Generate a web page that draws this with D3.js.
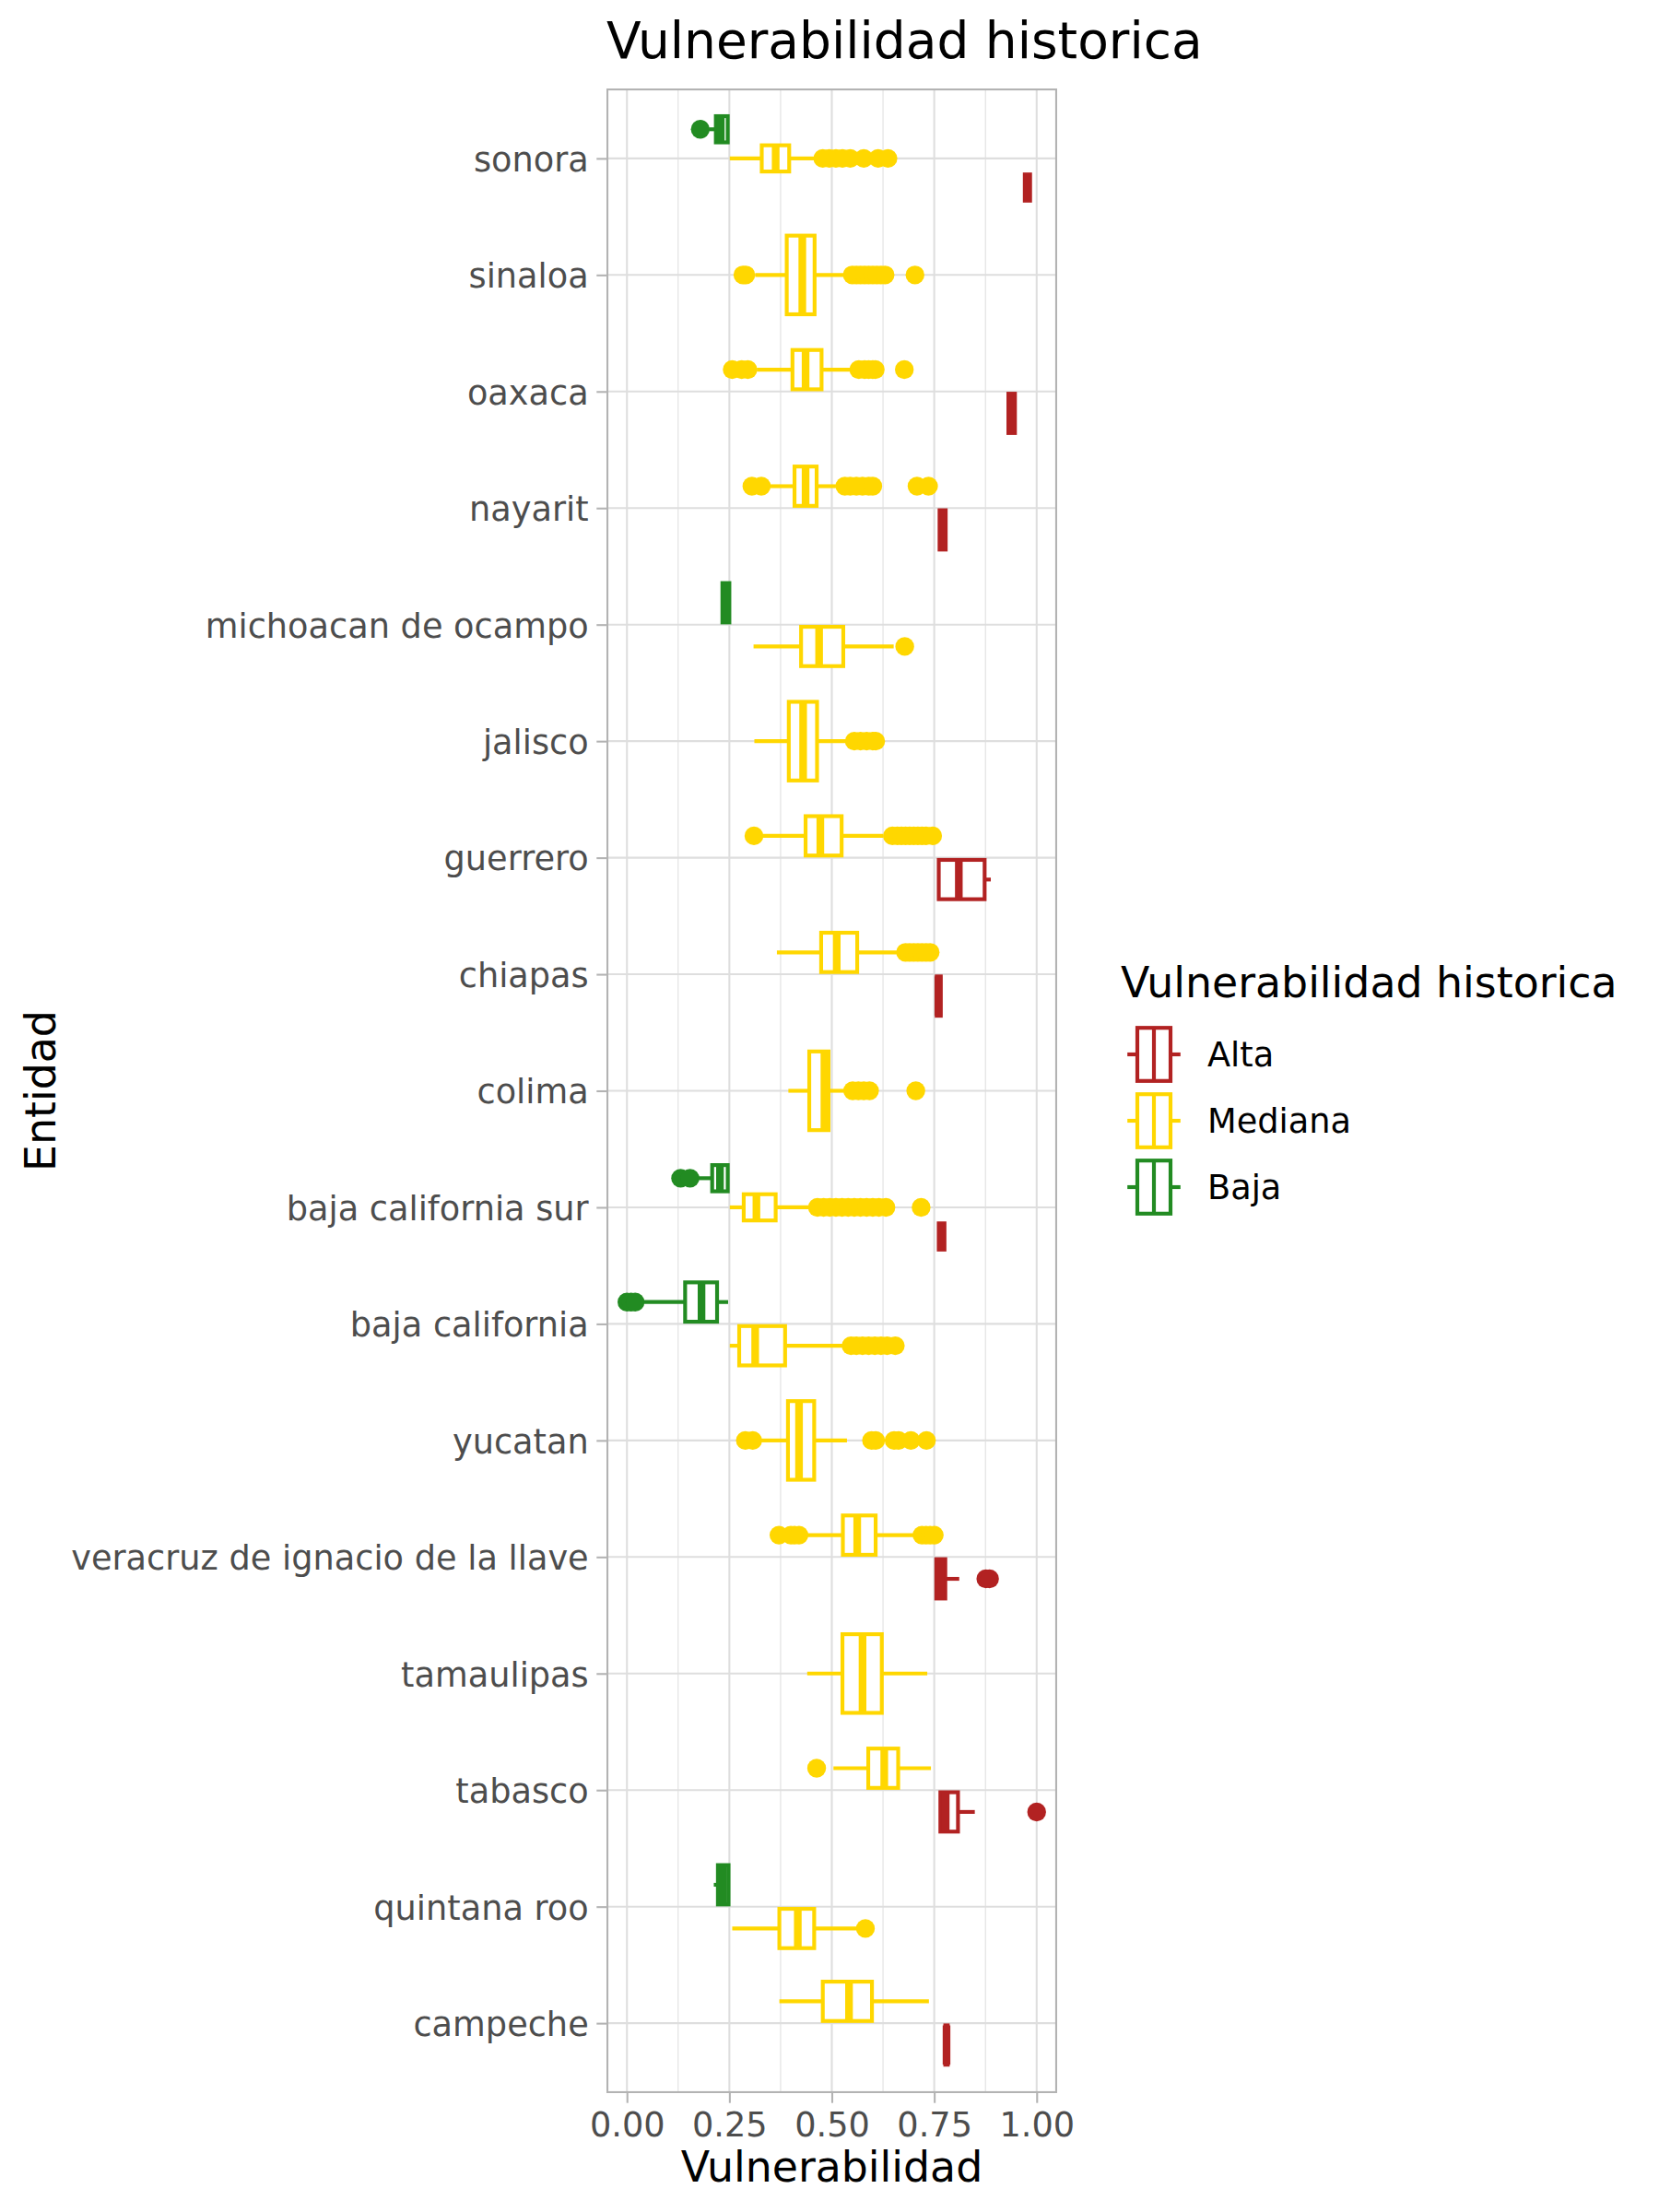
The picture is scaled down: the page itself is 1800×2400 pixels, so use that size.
<!DOCTYPE html>
<html>
<head>
<meta charset="utf-8">
<script src="https://cdn.jsdelivr.net/npm/d3@7"></script>
<style>
  body { margin: 0; background: #fff; }
  text { font-family: "DejaVu Sans", sans-serif; }
</style>
</head>
<body>
<svg id="chart"></svg>
<script>
// estados, de arriba hacia abajo
const entidades = [
  "sonora", "sinaloa", "oaxaca", "nayarit", "michoacan de ocampo", "jalisco",
  "guerrero", "chiapas", "colima", "baja california sur", "baja california",
  "yucatan", "veracruz de ignacio de la llave", "tamaulipas", "tabasco",
  "quintana roo", "campeche"
];
const niveles = ["Alta", "Mediana", "Baja"];
const xTicks = [0, 0.25, 0.5, 0.75, 1];

// [entidad, bigote inf, q1, mediana, q3, bigote sup, atipicos]
const cajasAlta = [
  ["sonora", 0.970, 0.971, 0.977, 0.984, 0.985, []],
  ["oaxaca", 0.930, 0.931, 0.939, 0.947, 0.948, []],
  ["nayarit", 0.762, 0.763, 0.770, 0.778, 0.779, []],
  ["guerrero", 0.761, 0.761, 0.810, 0.873, 0.888, []],
  ["chiapas", 0.755, 0.756, 0.760, 0.766, 0.767, []],
  ["baja california sur", 0.760, 0.761, 0.768, 0.775, 0.776, []],
  ["veracruz de ignacio de la llave", 0.752, 0.755, 0.765, 0.777, 0.811, [0.876, 0.885]],
  ["tabasco", 0.762, 0.765, 0.778, 0.808, 0.849, [1.0]],
  ["campeche", 0.776, 0.777, 0.780, 0.783, 0.784, []]
];

const cajasMediana = [
  ["sonora", 0.251, 0.329, 0.363, 0.396, 0.462, [0.478, 0.494, 0.51, 0.526, 0.545, 0.578, 0.613, 0.637]],
  ["sinaloa", 0.313, 0.390, 0.428, 0.458, 0.530, [0.283, 0.29, 0.55, 0.56, 0.57, 0.58, 0.59, 0.60, 0.61, 0.62, 0.63, 0.703]],
  ["oaxaca", 0.317, 0.404, 0.436, 0.475, 0.550, [0.257, 0.28, 0.295, 0.566, 0.58, 0.59, 0.60, 0.606, 0.677]],
  ["nayarit", 0.349, 0.409, 0.436, 0.463, 0.510, [0.305, 0.328, 0.532, 0.545, 0.56, 0.575, 0.59, 0.60, 0.708, 0.736]],
  ["michoacan de ocampo", 0.309, 0.425, 0.469, 0.528, 0.651, [0.678]],
  ["jalisco", 0.311, 0.395, 0.430, 0.464, 0.536, [0.555, 0.57, 0.585, 0.60, 0.607]],
  ["guerrero", 0.330, 0.436, 0.472, 0.524, 0.626, [0.31, 0.648, 0.66, 0.67, 0.68, 0.69, 0.70, 0.71, 0.72, 0.73, 0.746]],
  ["chiapas", 0.366, 0.474, 0.512, 0.562, 0.667, [0.68, 0.69, 0.70, 0.71, 0.72, 0.73, 0.74]],
  ["colima", 0.394, 0.445, 0.482, 0.492, 0.532, [0.551, 0.565, 0.578, 0.592, 0.705]],
  ["baja california sur", 0.251, 0.285, 0.316, 0.363, 0.450, [0.465, 0.48, 0.495, 0.51, 0.525, 0.54, 0.555, 0.57, 0.585, 0.60, 0.615, 0.632, 0.718]],
  ["baja california", 0.251, 0.274, 0.313, 0.386, 0.532, [0.547, 0.56, 0.575, 0.59, 0.605, 0.62, 0.635, 0.655]],
  ["yucatan", 0.326, 0.393, 0.420, 0.457, 0.537, [0.289, 0.307, 0.597, 0.607, 0.652, 0.663, 0.693, 0.731]],
  ["veracruz de ignacio de la llave", 0.438, 0.527, 0.562, 0.607, 0.705, [0.371, 0.40, 0.409, 0.42, 0.72, 0.73, 0.74, 0.75]],
  ["tamaulipas", 0.440, 0.526, 0.575, 0.622, 0.733, []],
  ["tabasco", 0.504, 0.589, 0.628, 0.662, 0.742, [0.463]],
  ["quintana roo", 0.257, 0.372, 0.417, 0.457, 0.564, [0.582]],
  ["campeche", 0.372, 0.478, 0.542, 0.598, 0.737, []]
];

const cajasBaja = [
  ["sonora", 0.200, 0.217, 0.229, 0.246, 0.247, [0.179]],
  ["michoacan de ocampo", 0.232, 0.233, 0.242, 0.250, 0.251, []],
  ["baja california sur", 0.172, 0.208, 0.227, 0.246, 0.247, [0.131, 0.154]],
  ["baja california", 0.041, 0.142, 0.182, 0.220, 0.247, [0.0, 0.01, 0.02]],
  ["quintana roo", 0.212, 0.222, 0.235, 0.248, 0.249, []]
];

const W = 1800, H = 2400;
const panel = { left: 658, right: 1147, top: 96, bottom: 2271 };
const lw = 4.16;

const svg = d3.select("#chart").attr("width", W).attr("height", H);
svg.append("rect").attr("width", W).attr("height", H).attr("fill", "#fff");

const x = d3.scaleLinear().domain([-0.05, 1.05]).range([panel.left, panel.right]);
const y = d3.scalePoint().domain(entidades).range([panel.top, panel.bottom]).padding(0.6);
const color = d3.scaleOrdinal().domain(niveles).range(["#B22222", "#FFD700", "#228B22"]);
const step = y.step();

// gridlines
const minorTicks = d3.pairs(xTicks).map(p => (p[0] + p[1]) / 2);
const grid = svg.append("g");
grid.selectAll(".minor").data(minorTicks).enter().append("line")
  .attr("x1", d => x(d)).attr("x2", d => x(d))
  .attr("y1", panel.top).attr("y2", panel.bottom)
  .attr("stroke", "#DEDEDE").attr("stroke-width", 1.04);
grid.selectAll(".majx").data(xTicks).enter().append("line")
  .attr("x1", d => x(d)).attr("x2", d => x(d))
  .attr("y1", panel.top).attr("y2", panel.bottom)
  .attr("stroke", "#DEDEDE").attr("stroke-width", 2.08);
grid.selectAll(".majy").data(entidades).enter().append("line")
  .attr("x1", panel.left).attr("x2", panel.right)
  .attr("y1", d => y(d)).attr("y2", d => y(d))
  .attr("stroke", "#DEDEDE").attr("stroke-width", 2.08);

// boxes: build rows with dodge position
const todas = [];
[["Alta", cajasAlta], ["Mediana", cajasMediana], ["Baja", cajasBaja]].forEach(([nivel, arr]) => {
  arr.forEach(r => todas.push({
    nivel, entidad: r[0], lo: r[1], q1: r[2], med: r[3], q3: r[4], hi: r[5], out: r[6]
  }));
});
const ordenPantalla = ["Baja", "Mediana", "Alta"];
todas.forEach(d => {
  const presentes = ordenPantalla.filter(n => todas.some(t => t.entidad === d.entidad && t.nivel === n));
  const slot = 0.75 * step / presentes.length;
  const i = presentes.indexOf(d.nivel);
  d.cy = y(d.entidad) - 0.375 * step + slot * (i + 0.5);
  d.h = 0.9 * slot;
});

const plot = svg.append("g");
const orden = d3.sort(todas, d => entidades.indexOf(d.entidad), d => niveles.indexOf(d.nivel));
orden.forEach(d => {
  const g = plot.append("g");
  const c = color(d.nivel);
  g.selectAll("circle").data(d.out).enter().append("circle")
    .attr("cx", v => x(v)).attr("cy", d.cy).attr("r", 10.2).attr("fill", c);
  g.append("line").attr("x1", x(d.lo)).attr("x2", x(d.q1)).attr("y1", d.cy).attr("y2", d.cy)
    .attr("stroke", c).attr("stroke-width", lw);
  g.append("line").attr("x1", x(d.q3)).attr("x2", x(d.hi)).attr("y1", d.cy).attr("y2", d.cy)
    .attr("stroke", c).attr("stroke-width", lw);
  g.append("rect").attr("x", x(d.q1)).attr("width", x(d.q3) - x(d.q1))
    .attr("y", d.cy - d.h / 2).attr("height", d.h)
    .attr("fill", "#fff").attr("stroke", c).attr("stroke-width", lw);
  g.append("line").attr("x1", x(d.med)).attr("x2", x(d.med))
    .attr("y1", d.cy - d.h / 2).attr("y2", d.cy + d.h / 2)
    .attr("stroke", c).attr("stroke-width", lw * 2);
});

// panel border
svg.append("rect")
  .attr("x", panel.left + 1.04).attr("y", panel.top + 1.04)
  .attr("width", panel.right - panel.left - 2.08).attr("height", panel.bottom - panel.top - 2.08)
  .attr("fill", "none").attr("stroke", "#B3B3B3").attr("stroke-width", 2.08);

// axes
const tickLen = 10.7;
const xAxis = svg.append("g").attr("transform", `translate(0,${panel.bottom})`)
  .call(d3.axisBottom(x).tickValues(xTicks).tickFormat(d3.format(".2f"))
    .tickSizeInner(tickLen).tickSizeOuter(0).tickPadding(8.6));
const yAxis = svg.append("g").attr("transform", `translate(${panel.left},0)`)
  .call(d3.axisLeft(y).tickSizeInner(tickLen).tickSizeOuter(0).tickPadding(8.6));
[xAxis, yAxis].forEach(a => {
  a.select(".domain").remove();
  a.selectAll(".tick line").attr("stroke", "#B3B3B3").attr("stroke-width", 2.08);
  a.selectAll(".tick text").attr("fill", "#4D4D4D").style("font-size", "36.7px")
    .style("font-family", "DejaVu Sans");
});
xAxis.selectAll(".tick text").attr("dy", null).attr("y", tickLen + 8.6)
  .attr("dominant-baseline", "hanging");
yAxis.selectAll(".tick text").attr("dy", "0.365em");

// titles
svg.append("text").attr("x", panel.left).attr("y", 63)
  .style("font-size", "55px").attr("fill", "#000").text("Vulnerabilidad historica");
svg.append("text").attr("x", (panel.left + panel.right) / 2).attr("y", 2367)
  .attr("text-anchor", "middle").style("font-size", "45.8px").attr("fill", "#000").text("Vulnerabilidad");
svg.append("text")
  .attr("transform", `translate(43,${(panel.top + panel.bottom) / 2}) rotate(-90)`)
  .attr("text-anchor", "middle").attr("dy", "0.365em")
  .style("font-size", "45.8px").attr("fill", "#000").text("Entidad");

// legend
const leg = svg.append("g").attr("transform", "translate(1216,0)");
leg.append("text").attr("x", 0).attr("y", 1082).style("font-size", "45.8px")
  .attr("fill", "#000").text("Vulnerabilidad historica");
const key = 72;
niveles.forEach((n, i) => {
  const cy = 1144 + i * key;
  const top = cy - key / 2;
  const c = color(n);
  const k = leg.append("g");
  k.append("line").attr("x1", key * 0.1).attr("x2", key * 0.25).attr("y1", cy).attr("y2", cy)
    .attr("stroke", c).attr("stroke-width", lw);
  k.append("line").attr("x1", key * 0.75).attr("x2", key * 0.9).attr("y1", cy).attr("y2", cy)
    .attr("stroke", c).attr("stroke-width", lw);
  k.append("rect").attr("x", key * 0.25).attr("y", top + key * 0.1)
    .attr("width", key * 0.5).attr("height", key * 0.8)
    .attr("fill", "#fff").attr("stroke", c).attr("stroke-width", lw);
  k.append("line").attr("x1", key * 0.5).attr("x2", key * 0.5)
    .attr("y1", top + key * 0.1).attr("y2", top + key * 0.9)
    .attr("stroke", c).attr("stroke-width", lw);
  k.append("text").attr("x", 94).attr("y", cy).attr("dy", "0.365em")
    .style("font-size", "36.7px").attr("fill", "#000").text(n);
});
</script>
</body>
</html>
